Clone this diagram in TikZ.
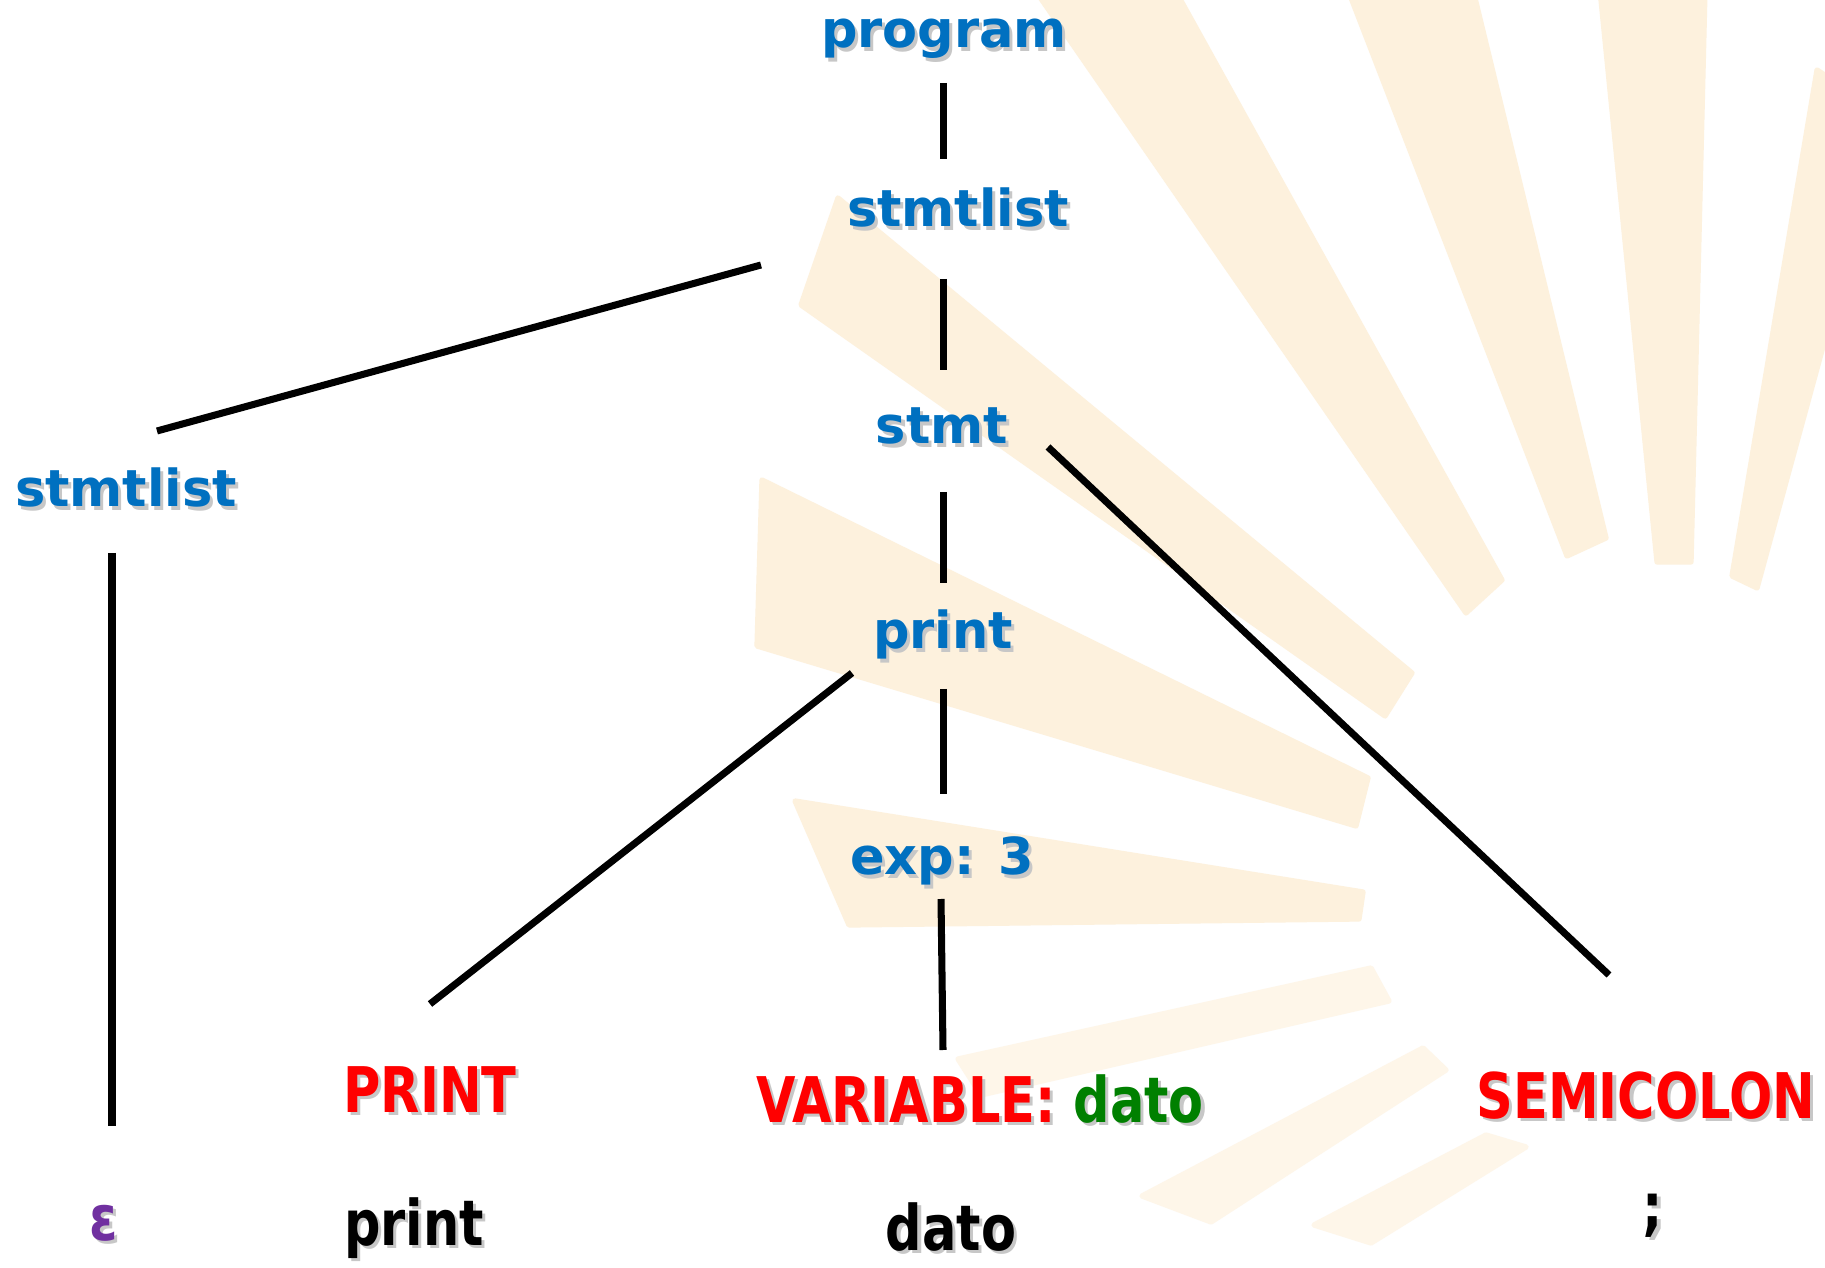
\documentclass[tikz,border=0pt]{standalone}
\usepackage{fontspec}
\setmainfont{DejaVu Sans}
\newfontfamily\narrowfont{DejaVu Sans}[FakeStretch=0.81]
\usetikzlibrary{calc}

\definecolor{ntblue}{RGB}{0,112,192}
\definecolor{tokred}{RGB}{255,0,0}
\definecolor{valgreen}{RGB}{0,128,0}
\definecolor{epspurple}{RGB}{112,48,160}
\definecolor{raycol}{RGB}{253,241,221}
\definecolor{raypale}{RGB}{254,246,233}

% text with a soft grey drop shadow behind it
\newcommand\shadowed[1]{\rlap{\kern0.9pt\raisebox{-0.9pt}{\color{black!22}\renewcommand\textcolor[2]{##2}#1}}#1}

\tikzset{
  nonterm/.style={anchor=base, inner sep=0pt, text=ntblue,
    font=\fontsize{14.5}{17}\selectfont\bfseries},
  token/.style={anchor=base, inner sep=0pt, text=tokred,
    font=\narrowfont\fontsize{17.9}{21}\selectfont\bfseries},
  lexeme/.style={anchor=base, inner sep=0pt, text=black,
    font=\narrowfont\fontsize{17.9}{21}\selectfont\bfseries},
  branch/.style={line width=2pt, black},
  ray/.style={fill=raycol, draw=raycol, line width=1.5pt, line join=round},
  rayfaint/.style={fill=raypale, draw=raypale, line width=1.5pt, line join=round}
}

\begin{document}
\begin{tikzpicture}[x=0.01cm, y=-0.01cm]
\useasboundingbox (0,0) rectangle (1825,1268);
\fill[white] (0,0) rectangle (1825,1268);

% sunburst in the background
\begin{scope}
  \clip (0,0) rectangle (1825,1268);
  \path[ray] (1817,70) -- (1886,116) -- (1757,588) -- (1732,576) -- cycle;
  \path[ray] (1600,-10) -- (1705,-10) -- (1691,562) -- (1657,562) -- cycle;
  \path[ray] (1348,-10) -- (1473,-10) -- (1606,538) -- (1567,556) -- cycle;
  \path[ray] (1035,-10) -- (1175,-10) -- (1502,580) -- (1466,613) -- cycle;
  \path[ray] (838,198) -- (801,305) -- (1385,716) -- (1412,673) -- cycle;
  \path[ray] (762,480) -- (757,646) -- (1356,826) -- (1368,778) -- cycle;
  \path[ray] (795,801) -- (849,925) -- (1359,919) -- (1363,892) -- cycle;
  \path[rayfaint] (958,1059) -- (981,1095) -- (1389,1001) -- (1371,968) -- cycle;
  \path[rayfaint] (1142,1196) -- (1211,1222) -- (1446,1070) -- (1423,1048) -- cycle;
  \path[rayfaint] (1314,1225) -- (1371,1243) -- (1526,1147) -- (1486,1135) -- cycle;
\end{scope}

% nonterminals
\node[nonterm] (prog)   at (944,48)  {\shadowed{program}};
\node[nonterm] (slist)  at (958,227) {\shadowed{stmtlist}};
\node[nonterm] (stmt)   at (942,444) {\shadowed{stmt}};
\node[nonterm] (prnt)   at (943,649) {\shadowed{print}};
\node[nonterm] (expr)   at (942,875) {\shadowed{exp: 3}};
\node[nonterm] (slempty) at (126,507) {\shadowed{stmtlist}};

% tokens
\node[token] (tprint) at (430,1112) {\shadowed{PRINT}};
\node[token] (tvar)   at (980,1122) {\shadowed{\textcolor{tokred}{VARIABLE:} \textcolor{valgreen}{dato}}};
\node[token] (tsemi)  at (1646,1118) {\shadowed{SEMICOLON}};

% lexemes
\node[lexeme, text=epspurple] (eps) at (104,1240) {\shadowed{ε}};
\node[lexeme] (lprint) at (414,1245) {\shadowed{print}};
\node[lexeme] (ldato)  at (951,1250) {\shadowed{dato}};
\node[lexeme] (lsemi)  at (1653,1228) {\shadowed{;}};

% tree branches
\draw[branch] ($(prog.base)+(-1,35)$)    -- ($(slist.base)+(-15,-68)$);
\draw[branch] ($(slist.base)+(-197,38)$) -- ($(slempty.base)+(31,-76)$);
\draw[branch] ($(slist.base)+(-15,52)$)  -- ($(stmt.base)+(1,-74)$);
\draw[branch] ($(stmt.base)+(1,48)$)     -- ($(prnt.base)+(0,-66)$);
\draw[branch] ($(stmt.base)+(106,3)$)    -- ($(tsemi.base)+(-37,-143)$);
\draw[branch] ($(prnt.base)+(0,40)$)     -- ($(expr.base)+(1,-81)$);
\draw[branch] ($(prnt.base)+(-91,24)$)   -- ($(tprint.base)+(0,-108)$);
\draw[branch] ($(expr.base)+(-1,24)$)    -- ($(tvar.base)+(-37,-72)$);
\draw[branch] ($(slempty.base)+(-14,46)$) -- ($(eps.base)+(8,-114)$);
\end{tikzpicture}
\end{document}
